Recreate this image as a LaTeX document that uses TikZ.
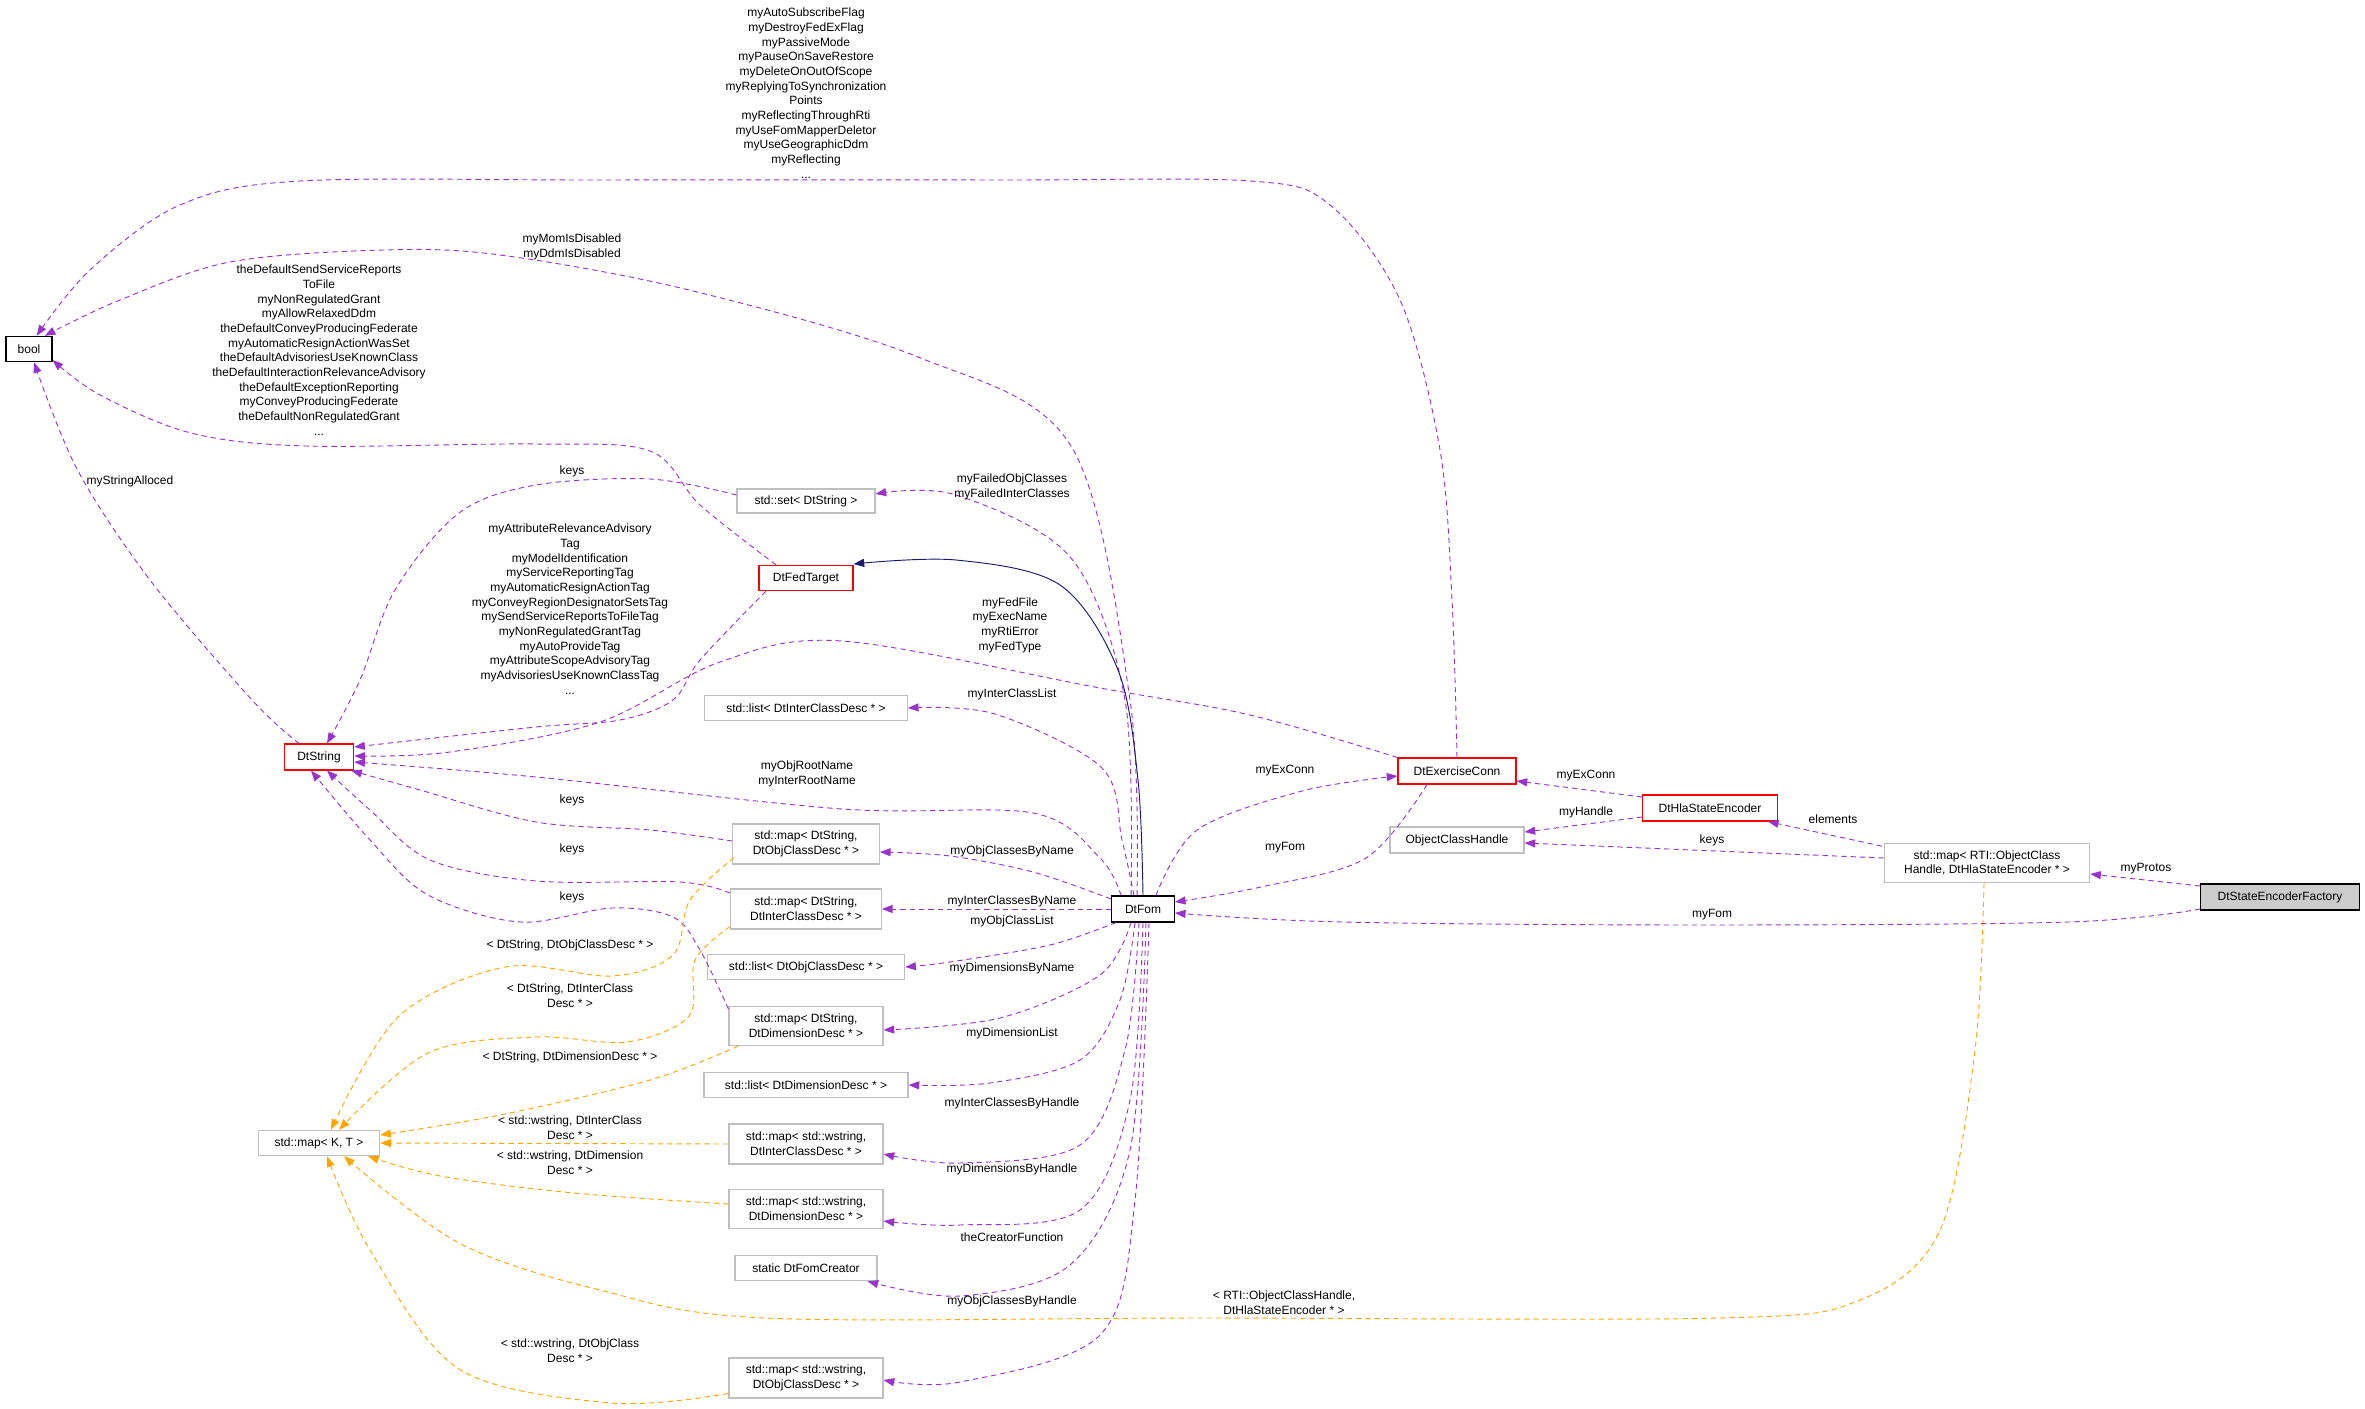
\documentclass[tikz,border=0pt]{standalone}
\usepackage{fontspec}
\setmainfont{Liberation Sans}
\usetikzlibrary{arrows.meta,calc}
\definecolor{pur}{HTML}{9A32CD}
\definecolor{org}{HTML}{FFA500}
\definecolor{nav}{HTML}{191970}
\definecolor{gry}{HTML}{BFBFBF}
\begin{document}
\begin{tikzpicture}[x=0.75pt,y=-0.75pt,
 font=\fontsize{9}{11}\selectfont,
 box/.style={draw=gry,fill=white,inner sep=0pt,align=center,line width=0.8pt},
 rbox/.style={box,draw=red},
 kbox/.style={box,draw=black},
 lab/.style={align=center,inner sep=0pt},
 tip/.style={-{Triangle[length=8pt,width=6pt]}},
 pe/.style={tip,draw=pur,dash pattern=on 4pt off 3pt,line width=0.7pt,smooth,tension=0.55},
 oe/.style={tip,draw=org,dash pattern=on 4pt off 3pt,line width=0.7pt,smooth,tension=0.55},
 ne/.style={tip,draw=nav,line width=0.7pt,smooth,tension=0.55}]
\useasboundingbox (0,0) rectangle (2365,1409);
% nodes
\node[kbox,minimum width=34.5pt,minimum height=19pt] (bool) at (29,349) {bool};
\node[rbox,minimum width=70.5pt,minimum height=19pt] (FT) at (806,578) {DtFedTarget};
\node[box,minimum width=103.5pt,minimum height=18pt] (set) at (806,501) {std::set< DtString >};
\node[box,minimum width=152pt,minimum height=19pt] (listI) at (806,708) {std::list< DtInterClassDesc * >};
\node[rbox,minimum width=52pt,minimum height=19.5pt] (DS) at (319,757) {DtString};
\node[box,minimum width=110pt,minimum height=30pt] (mSO) at (806,844) {std::map< DtString,\\DtObjClassDesc * >};
\node[box,minimum width=113pt,minimum height=30pt] (mSI) at (806,909) {std::map< DtString,\\DtInterClassDesc * >};
\node[box,minimum width=148pt,minimum height=19pt] (listO) at (806,967) {std::list< DtObjClassDesc * >};
\node[box,minimum width=115.5pt,minimum height=29pt] (mSD) at (806,1026) {std::map< DtString,\\DtDimensionDesc * >};
\node[box,minimum width=153pt,minimum height=19pt] (listD) at (806,1085) {std::list< DtDimensionDesc * >};
\node[box,minimum width=91pt,minimum height=19pt] (KT) at (319,1143) {std::map< K, T >};
\node[box,minimum width=115.5pt,minimum height=30pt] (mWI) at (806,1144) {std::map< std::wstring,\\DtInterClassDesc * >};
\node[box,minimum width=115.5pt,minimum height=29pt] (mWD) at (806,1209) {std::map< std::wstring,\\DtDimensionDesc * >};
\node[box,minimum width=106.5pt,minimum height=19pt] (cr) at (806,1268) {static DtFomCreator};
\node[box,minimum width=115.5pt,minimum height=30pt] (mWO) at (806,1378) {std::map< std::wstring,\\DtObjClassDesc * >};
\node[kbox,minimum width=47pt,minimum height=19.5pt] (Fom) at (1143,909) {DtFom};
\node[rbox,minimum width=88.5pt,minimum height=19.5pt] (EC) at (1457,771) {DtExerciseConn};
\node[rbox,minimum width=101pt,minimum height=19.5pt] (Hla) at (1710,808) {DtHlaStateEncoder};
\node[box,minimum width=100.5pt,minimum height=19.5pt] (OCH) at (1457,840) {ObjectClassHandle};
\node[box,minimum width=154pt,minimum height=29pt] (RTI) at (1987,863) {std::map< RTI::ObjectClass\\Handle, DtHlaStateEncoder * >};
\node[kbox,fill=gry!80,minimum width=119pt,minimum height=19.5pt] (Fac) at (2280,897) {DtStateEncoderFactory};
% edges to bool
\draw[pe] plot coordinates {(EC.north) (1452,600) (1440,450) (1400,300) (1330,205) (1250,181) (1000,180) (600,180) (300,181) (180,205) (90,270) (bool.60)};
\draw[pe] plot coordinates {($(Fom.north)+(-6,0)$) (1130,700) (1071,446) (918,357) (689,290) (500,255) (383,250) (230,262) (120,300) (bool.40)};
\draw[pe] plot coordinates {($(FT.north)+(-30,0)$) (700,505) (650,451) (536,444) (306,446) (191,433) (100,395) (bool.-25)};
\draw[pe] plot coordinates {($(DS.north)+(-20,0)$) (252,700) (150,580) (77,469) ($(bool.south)+(5,0)$)};
% to DtString
\draw[pe] plot coordinates {($(set.west)+(0,-6)$) (650,479) (536,485) (459,513) (395,590) (360,680) ($(DS.north)+(8,0)$)};
\draw[pe] plot coordinates {($(FT.south)+(-40,0)$) (700,660) (673,700) (620,720) (536,727) ($(DS.east)+(0,-10)$)};
\draw[pe] plot coordinates {(EC.north west) (1250,715) (1100,688) (842,641) (720,662) (600,722) (450,752) ($(DS.east)+(0,-1)$)};
\draw[pe] plot coordinates {($(Fom.north west)+(10,0)$) (1100,858) (1033,813) (842,809) (536,777) ($(DS.east)+(0,5)$)};
\draw[pe] plot coordinates {($(mSO.west)+(0,-3)$) (650,830) (536,822) (420,790) ($(DS.south east)+(-3,0)$)};
\draw[pe] plot coordinates {($(mSI.west)+(0,-16)$) (680,882) (536,881) (430,860) (370,810) ($(DS.south)+(8,0)$)};
\draw[pe] plot coordinates {($(mSD.north west)+(0,3)$) (700,950) (673,917) (612,908) (520,922) (428,895) (370,840) ($(DS.south)+(-8,0)$)};
% Fom upward
\draw[pe] plot coordinates {($(Fom.north)+(-12,0)$) (1125,700) (1071,558) (956,495) ($(set.east)+(0,-7)$)};
\draw[ne] plot coordinates {(Fom.north) (1138,780) (1118,670) (1060,585) (956,560) ($(FT.east)+(0,-14)$)};
\draw[pe] plot coordinates {($(Fom.north)+(-9,0)$) (1122,840) (1102,768) (995,714) (listI.east)};
% Fom to right-hand boxes
\draw[pe] plot coordinates {($(Fom.west)+(0,-10)$) (1033,872) (950,856) ($(mSO.east)+(0,8)$)};
\draw[pe] (Fom.west) -- (mSI.east);
\draw[pe] plot coordinates {($(Fom.south west)+(5,0)$) (1050,945) (950,962) (listO.east)};
\draw[pe] plot coordinates {($(Fom.south)+(-12,0)$) (1100,975) (1000,1018) ($(mSD.east)+(0,4)$)};
\draw[pe] plot coordinates {($(Fom.south)+(-8,0)$) (1120,1000) (1080,1060) (990,1083) (listD.east)};
\draw[pe] plot coordinates {($(Fom.south)+(-4,0)$) (1125,1050) (1080,1145) (960,1163) ($(mWI.east)+(0,10)$)};
\draw[pe] plot coordinates {(Fom.south) (1130,1100) (1080,1210) (960,1225) ($(mWD.east)+(0,12)$)};
\draw[pe] plot coordinates {($(Fom.south)+(3,0)$) (1130,1150) (1070,1265) (960,1296) ($(cr.south east)+(-10,0)$)};
\draw[pe] plot coordinates {($(Fom.south)+(6,0)$) (1135,1200) (1100,1335) (960,1382) ($(mWO.east)+(0,2)$)};
% orange
\draw[oe] plot coordinates {($(mSO.south west)+(2,-7)$) (690,900) (673,955) (612,976) (505,967) (398,1017) ($(KT.north)+(12,0)$)};
\draw[oe] plot coordinates {($(mSI.south west)+(0,-3)$) (695,960) (689,1016) (627,1042) (536,1037) (428,1053) ($(KT.north)+(20,0)$)};
\draw[oe] plot coordinates {($(mSD.south west)+(10,0)$) (650,1080) (500,1115) ($(KT.east)+(0,-8)$)};
\draw[oe] (mWI.west) -- (KT.east);
\draw[oe] plot coordinates {($(mWD.west)+(0,-5)$) (574,1193) (440,1176) ($(KT.south east)+(-12,0)$)};
\draw[oe] plot coordinates {($(RTI.south)+(-3,0)$) (1975,1050) (1940,1230) (1860,1300) (1720,1318) (1200,1318) (765,1318) (600,1290) (459,1243) ($(KT.south)+(25,0)$)};
\draw[oe] plot coordinates {($(mWO.south west)+(0,-5)$) (612,1403) (459,1369) (370,1250) ($(KT.south)+(8,0)$)};
% right side
\draw[pe] plot coordinates {($(Fom.north east)+(-19,0)$) (1197,830) (1302,791) ($(EC.west)+(0,5)$)};
\draw[pe] plot coordinates {($(EC.south)+(-30,0)$) (1366,858) (1261,887) ($(Fom.east)+(0,-7)$)};
\draw[pe] ($(Hla.west)+(0,-11)$) -- ($(EC.east)+(0,10)$);
\draw[pe] ($(Hla.west)+(0,9)$) -- ($(OCH.east)+(0,-8)$);
\draw[pe] ($(RTI.north west)+(-2,3)$) -- ($(Hla.south east)+(-10,0)$);
\draw[pe] ($(RTI.west)+(0,-5)$) -- ($(OCH.east)+(0,3)$);
\draw[pe] ($(Fac.west)+(0,-11)$) -- ($(RTI.east)+(0,11)$);
\draw[pe] plot coordinates {($(Fac.west)+(0,12)$) (2068,922) (1700,925) (1342,922) ($(Fom.east)+(0,4)$)};
% labels
\node[lab] (l1) at (806,93) {myAutoSubscribeFlag\\myDestroyFedExFlag\\myPassiveMode\\myPauseOnSaveRestore\\myDeleteOnOutOfScope\\myReplyingToSynchronization\\Points\\myReflectingThroughRti\\myUseFomMapperDeletor\\myUseGeographicDdm\\myReflecting\\...};
\node[lab] (l2) at (572,247) {myMomIsDisabled\\myDdmIsDisabled};
\node[lab] (l3) at (319,350) {theDefaultSendServiceReports\\ToFile\\myNonRegulatedGrant\\myAllowRelaxedDdm\\theDefaultConveyProducingFederate\\myAutomaticResignActionWasSet\\theDefaultAdvisoriesUseKnownClass\\theDefaultInteractionRelevanceAdvisory\\theDefaultExceptionReporting\\myConveyProducingFederate\\theDefaultNonRegulatedGrant\\...};
\node[lab] (l4) at (130,481) {myStringAlloced};
\node[lab] (l5) at (572,471) {keys};
\node[lab] (l6) at (570,609) {myAttributeRelevanceAdvisory\\Tag\\myModelIdentification\\myServiceReportingTag\\myAutomaticResignActionTag\\myConveyRegionDesignatorSetsTag\\mySendServiceReportsToFileTag\\myNonRegulatedGrantTag\\myAutoProvideTag\\myAttributeScopeAdvisoryTag\\myAdvisoriesUseKnownClassTag\\...};
\node[lab] (l7) at (1012,487) {myFailedObjClasses\\myFailedInterClasses};
\node[lab] (l8) at (1010,625) {myFedFile\\myExecName\\myRtiError\\myFedType};
\node[lab] (l9) at (1012,694) {myInterClassList};
\node[lab] (l10) at (807,774) {myObjRootName\\myInterRootName};
\node[lab] (l11) at (572,800) {keys};
\node[lab] (l12) at (572,849) {keys};
\node[lab] (l13) at (572,897) {keys};
\node[lab] (l14) at (1012,851) {myObjClassesByName};
\node[lab] (l15) at (1012,901) {myInterClassesByName};
\node[lab] (l16) at (1012,921) {myObjClassList};
\node[lab] (l17) at (1012,968) {myDimensionsByName};
\node[lab] (l18) at (1012,1033) {myDimensionList};
\node[lab] (l19) at (1012,1103) {myInterClassesByHandle};
\node[lab] (l20) at (1012,1169) {myDimensionsByHandle};
\node[lab] (l21) at (1012,1237) {theCreatorFunction};
\node[lab] (l22) at (1012,1301) {myObjClassesByHandle};
\node[lab] (l23) at (570,945) {< DtString, DtObjClassDesc * >};
\node[lab] (l24) at (570,996) {< DtString, DtInterClass\\Desc * >};
\node[lab] (l25) at (570,1057) {< DtString, DtDimensionDesc * >};
\node[lab] (l26) at (570,1128) {< std::wstring, DtInterClass\\Desc * >};
\node[lab] (l27) at (570,1163) {< std::wstring, DtDimension\\Desc * >};
\node[lab] (l28) at (570,1351) {< std::wstring, DtObjClass\\Desc * >};
\node[lab] (l29) at (1284,1303) {< RTI::ObjectClassHandle,\\DtHlaStateEncoder * >};
\node[lab] (l30) at (1285,771) {myExConn};
\node[lab] (l31) at (1285,848) {myFom};
\node[lab] (l32) at (1586,776) {myExConn};
\node[lab] (l33) at (1586,812) {myHandle};
\node[lab] (l34) at (1833,819) {elements};
\node[lab] (l35) at (1712,840) {keys};
\node[lab] (l36) at (2146,869) {myProtos};
\node[lab] (l37) at (1712,915) {myFom};
\end{tikzpicture}
\end{document}
